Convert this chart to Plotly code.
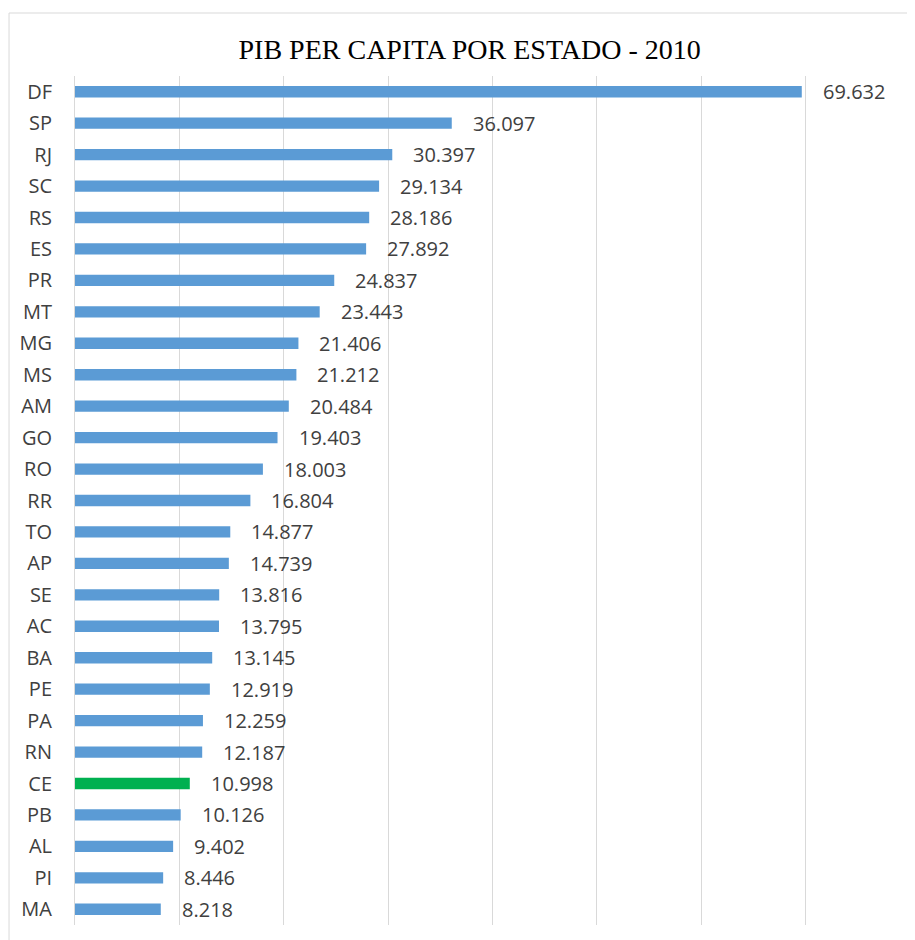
import plotly.graph_objects as go

states = ["DF", "SP", "RJ", "SC", "RS", "ES", "PR", "MT", "MG", "MS", "AM", "GO", "RO", "RR",
          "TO", "AP", "SE", "AC", "BA", "PE", "PA", "RN", "CE", "PB", "AL", "PI", "MA"]
pib = [69632, 36097, 30397, 29134, 28186, 27892, 24837, 23443, 21406, 21212, 20484, 19403,
       18003, 16804, 14877, 14739, 13816, 13795, 13145, 12919, 12259, 12187, 10998, 10126,
       9402, 8446, 8218]
highlight = "CE"

BLUE = "#5B9BD5"
GREEN = "#00B050"
colors = [GREEN if s == highlight else BLUE for s in states]

fig = go.Figure()
fig.add_trace(go.Bar(
    x=pib, y=states, orientation="h",
    marker=dict(color=colors, line=dict(width=0)),
    hoverinfo="x+y",
))

annotations = []
for s, v in zip(states, pib):
    annotations.append(dict(
        x=v, y=s, xref="x", yref="y", text=f"{v:,}".replace(",", "."),
        showarrow=False, xanchor="left", xshift=19, yshift=0,
        font=dict(family="Open Sans", size=20, color="#404040"),
    ))

fig.update_layout(
    width=907, height=932,
    margin=dict(l=67, r=5, t=68, b=15),
    paper_bgcolor="white", plot_bgcolor="white",
    bargap=0.64,
    showlegend=False,
    separators=",.",
    title=dict(text="PIB PER CAPITA POR ESTADO - 2010", x=0.509, xanchor="center",
               y=0.956, yanchor="middle",
               font=dict(family="Liberation Serif", size=28, color="#000000")),
    annotations=annotations,
    xaxis=dict(range=[0, 80000], dtick=10000, showticklabels=False, showgrid=True,
               gridcolor="#D9D9D9", gridwidth=1, zeroline=False, showline=False, ticks=""),
    yaxis=dict(autorange="reversed", showgrid=False, zeroline=False,
               showline=True, linecolor="#D9D9D9", linewidth=1, ticks="",
               ticklabelstandoff=18,
               tickfont=dict(family="Open Sans", size=20, color="#404040")),
    shapes=[dict(type="rect", xref="paper", yref="paper",
                 x0=-0.079, x1=1.2, y0=-0.2, y1=1.0742,
                 line=dict(color="#D9D9D9", width=1), fillcolor="rgba(0,0,0,0)",
                 layer="below")],
)

fig.write_html("out.html")
